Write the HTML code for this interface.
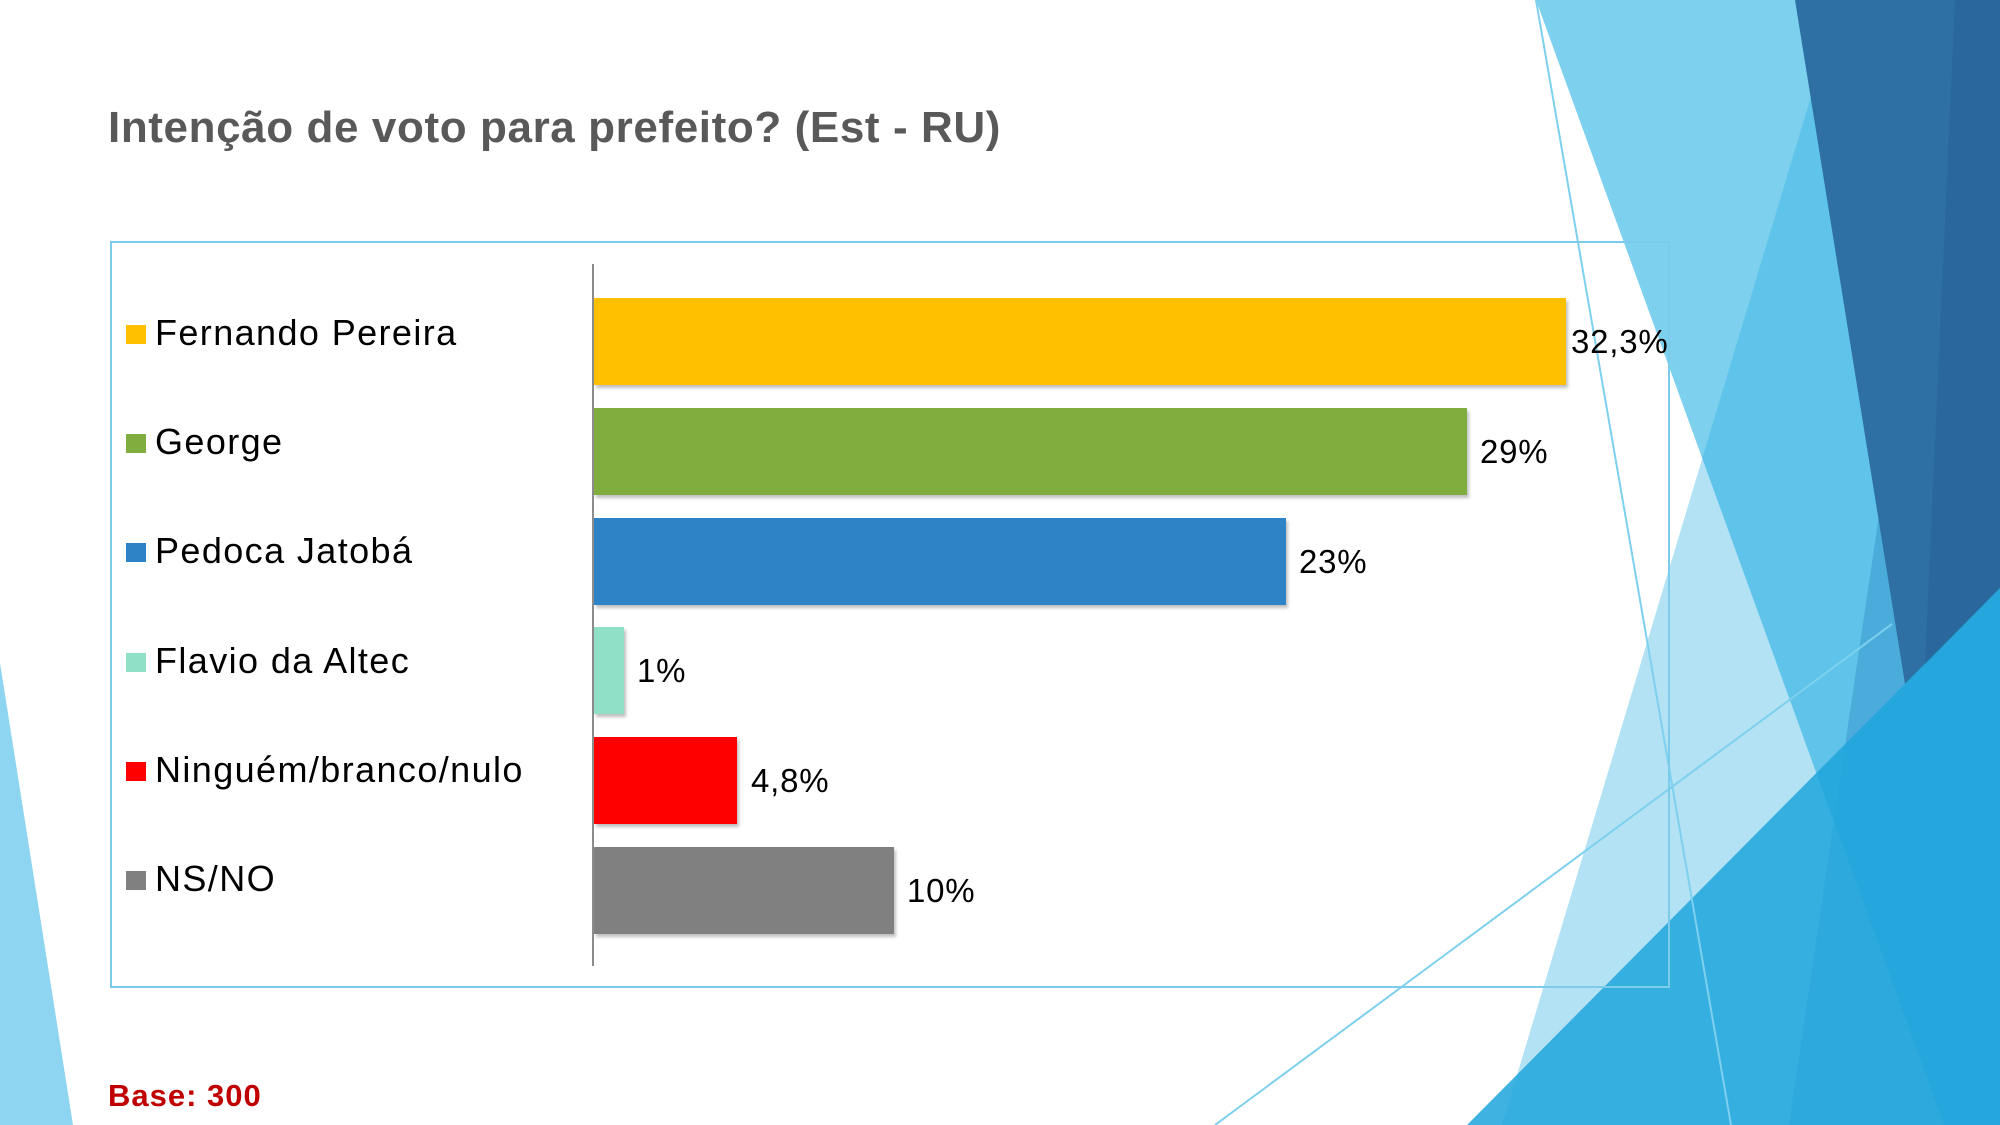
<!DOCTYPE html>
<html><head><meta charset="utf-8"><style>
html,body{margin:0;padding:0}
body{width:2000px;height:1125px;position:relative;overflow:hidden;background:#fff;font-family:"Liberation Sans","DejaVu Sans",sans-serif}
.abs{position:absolute}
.title{left:108px;top:103px;font-size:44px;font-weight:bold;color:#595959;white-space:nowrap;letter-spacing:0.6px}
.box{left:110px;top:241px;width:1560px;height:747px;border:2px solid #7dcbea;box-sizing:border-box}
.axis{left:592px;top:264px;width:2px;height:702px;background:#8c8c8c}
.bar{position:absolute;left:594px;height:87px;box-shadow:2px 3px 3px rgba(0,0,0,0.25)}
.val{position:absolute;font-size:33px;color:#000;line-height:40px;white-space:nowrap;letter-spacing:0.8px}
.leg{position:absolute;left:126px;font-size:36px;color:#000;line-height:40px;white-space:nowrap;letter-spacing:1.4px}
.leg i{display:inline-block;width:20px;height:19px;margin-right:9px;vertical-align:1px}
.base{left:108px;top:1078px;font-size:31px;font-weight:bold;color:#c00000;letter-spacing:1px}
</style></head><body>
<svg class="abs" style="left:0;top:0" width="2000" height="1125">
<polygon points="0,663 73,1125 0,1125" fill="#8dd5f0"/>
<polygon points="1536,0 2000,0 2000,1125 1944,1125" fill="#7dd0ee"/>
<polygon points="1840,0 2000,0 2000,1125 1502,1125" fill="rgba(41,171,226,0.35)"/>
<polygon points="1955,0 2000,0 2000,1125 1789,1125" fill="rgba(30,120,190,0.3)"/>
<polygon points="1795,0 2000,0 2000,588 1905,684" fill="#2e70a4"/>
<polygon points="1955,0 2000,0 2000,588 1925,665" fill="#2a679c"/>
<polygon points="1467,1125 2000,588 2000,1125" fill="rgba(30,165,220,0.85)"/>
<line x1="1536" y1="0" x2="1731" y2="1125" stroke="#7dd0ee" stroke-width="2"/>
<line x1="1215" y1="1125" x2="1892" y2="624" stroke="#7dd0ee" stroke-width="2"/>
</svg>
<div class="abs title">Intenção de voto para prefeito? (Est - RU)</div>
<div class="abs box"></div>
<div class="abs axis"></div>

<div class="bar" style="top:298px;width:972px;background:#ffc000"></div>
<div class="bar" style="top:408px;width:873px;background:#7fae3e"></div>
<div class="bar" style="top:518px;width:692px;background:#2e83c6"></div>
<div class="bar" style="top:627px;width:30px;background:#8fe0c6"></div>
<div class="bar" style="top:737px;width:143px;background:#ff0000"></div>
<div class="bar" style="top:847px;width:300px;background:#808080"></div>

<div class="val" style="left:1571px;top:322px">32,3%</div>
<div class="val" style="left:1480px;top:432px">29%</div>
<div class="val" style="left:1299px;top:542px">23%</div>
<div class="val" style="left:637px;top:651px">1%</div>
<div class="val" style="left:751px;top:761px">4,8%</div>
<div class="val" style="left:907px;top:871px">10%</div>

<div class="leg" style="top:313px"><i style="background:#ffc000"></i>Fernando Pereira</div>
<div class="leg" style="top:422px"><i style="background:#7fae3e"></i>George</div>
<div class="leg" style="top:531px"><i style="background:#2e83c6"></i>Pedoca Jatobá</div>
<div class="leg" style="top:641px"><i style="background:#8fe0c6"></i>Flavio da Altec</div>
<div class="leg" style="top:750px"><i style="background:#ff0000"></i>Ninguém/branco/nulo</div>
<div class="leg" style="top:859px"><i style="background:#808080"></i>NS/NO</div>

<div class="abs base">Base: 300</div>
</body></html>
